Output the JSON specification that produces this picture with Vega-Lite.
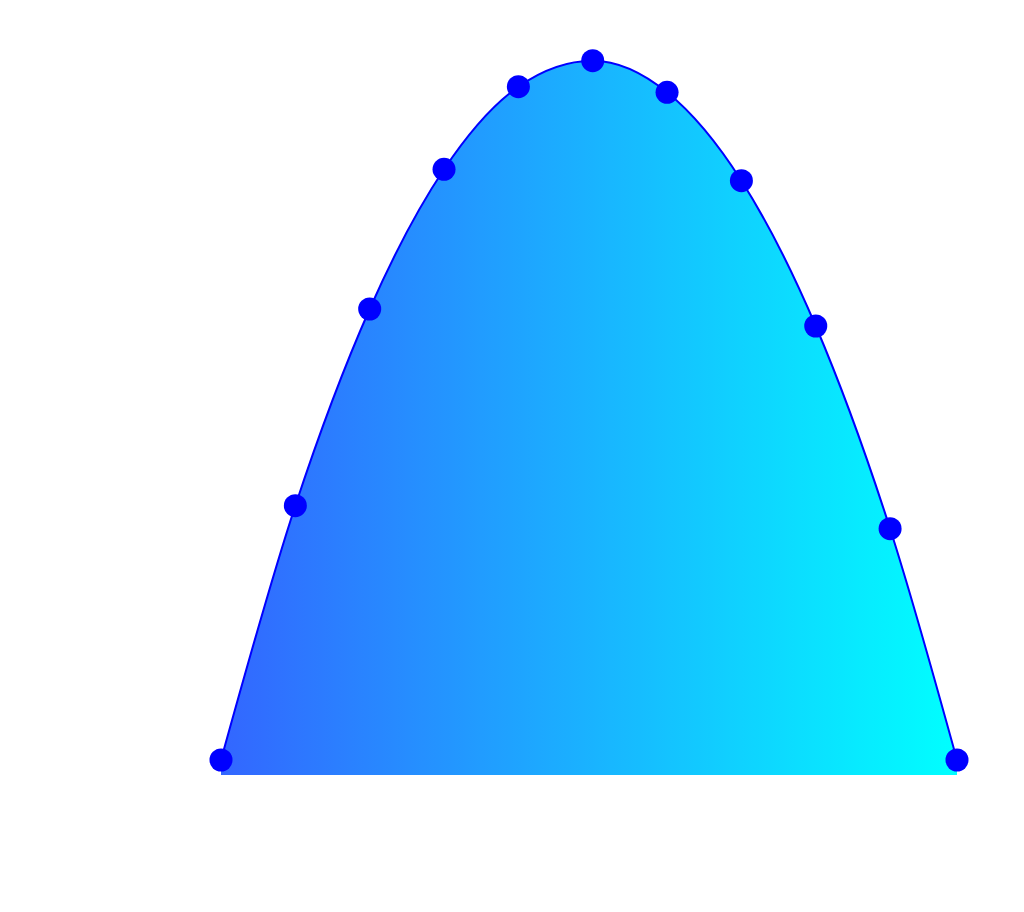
{
  "$schema": "https://vega.github.io/schema/vega-lite/v6.json",
  "width": 736,
  "height": 775,
  "padding": {"left": 221, "top": 0, "right": 67, "bottom": 137},
  "autosize": {"type": "none"},
  "background": "white",
  "config": {"view": {"stroke": null}},
  "data": {"values": [
    {"x": 0, "y": 15},
    {"x": 1, "y": 269.3},
    {"x": 2, "y": 466},
    {"x": 3, "y": 605.7},
    {"x": 4, "y": 688.3},
    {"x": 5, "y": 714.3},
    {"x": 6, "y": 682.7},
    {"x": 7, "y": 594.3},
    {"x": 8, "y": 449},
    {"x": 9, "y": 246.3},
    {"x": 9.9, "y": 15}
  ]},
  "encoding": {
    "x": {"field": "x", "type": "quantitative", "scale": {"domain": [0, 9.9], "nice": false, "zero": false}, "axis": null},
    "y": {"field": "y", "type": "quantitative", "scale": {"domain": [0, 775], "nice": false}, "axis": null}
  },
  "layer": [
    {"mark": {"type": "area", "interpolate": "monotone", "color": {"gradient": "linear", "x1": 0, "y1": 0, "x2": 1, "y2": 0, "stops": [{"offset": 0, "color": "#3366ff"}, {"offset": 1, "color": "#00ffff"}]}}},
    {"mark": {"type": "line", "interpolate": "monotone", "color": "#0000ff", "strokeWidth": 2}},
    {"mark": {"type": "point", "filled": true, "color": "#0000ff", "opacity": 1, "size": 530}}
  ]
}
